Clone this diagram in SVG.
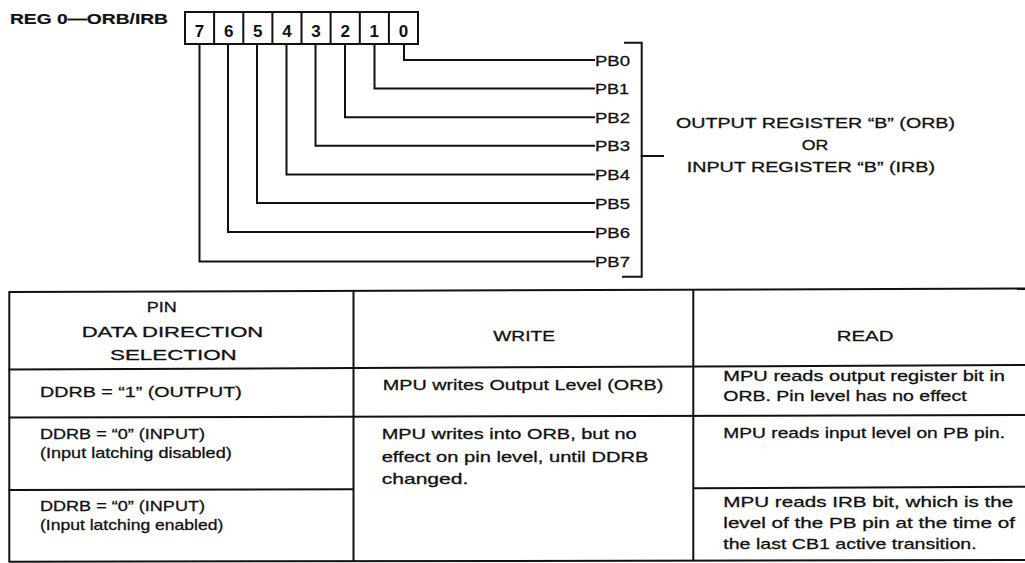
<svg xmlns="http://www.w3.org/2000/svg" width="1025" height="563" viewBox="0 0 1025 563">
<defs>
<style>
.t{font-family:"Liberation Sans",Arial,Helvetica,sans-serif;font-size:15px;fill:#111;stroke:#111;stroke-width:0.3}
.b{font-weight:bold;stroke-width:0.2}
.d{font-family:"Liberation Sans",Arial,sans-serif;font-size:17px;font-weight:bold;fill:#111;text-anchor:middle}
.ln{fill:none;stroke:#111;stroke-width:2;stroke-linecap:square;stroke-linejoin:miter}
.tl{fill:none;stroke:#111;stroke-width:2}
</style>
</defs>
<rect width="1025" height="563" fill="#fff"/>

<g id="title">
<text class="t b" x="10" y="23.5" font-size="14.5" textLength="158" lengthAdjust="spacingAndGlyphs">REG 0—ORB/IRB</text>
</g>

<g id="register">
<rect class="ln" x="185" y="12" width="233" height="32"/>
<g class="ln" stroke-width="1.5">
<line x1="214.1" y1="12" x2="214.1" y2="44"/>
<line x1="243.3" y1="12" x2="243.3" y2="44"/>
<line x1="272.4" y1="12" x2="272.4" y2="44"/>
<line x1="301.5" y1="12" x2="301.5" y2="44"/>
<line x1="330.6" y1="12" x2="330.6" y2="44"/>
<line x1="359.8" y1="12" x2="359.8" y2="44"/>
<line x1="388.9" y1="12" x2="388.9" y2="44"/>
</g>
<text class="d" x="199.6" y="36.5">7</text>
<text class="d" x="228.7" y="36.5">6</text>
<text class="d" x="257.8" y="36.5">5</text>
<text class="d" x="286.9" y="36.5">4</text>
<text class="d" x="316.1" y="36.5">3</text>
<text class="d" x="345.2" y="36.5">2</text>
<text class="d" x="374.3" y="36.5">1</text>
<text class="d" x="403.4" y="36.5">0</text>
</g>

<g id="connectors">
<polyline class="ln" points="404,44 404,60 594,60"/>
<polyline class="ln" points="374.5,44 374.5,88.6 594,88.6"/>
<polyline class="ln" points="345,44 345,117.2 594,117.2"/>
<polyline class="ln" points="315.5,44 315.5,145.8 594,145.8"/>
<polyline class="ln" points="286.5,44 286.5,174.4 594,174.4"/>
<polyline class="ln" points="257,44 257,203 594,203"/>
<polyline class="ln" points="228,44 228,232 594,232"/>
<polyline class="ln" points="199.5,44 199.5,261.5 594,261.5"/>
</g>

<g id="pb-labels">
<text class="t" x="595" y="65.5" textLength="35" lengthAdjust="spacingAndGlyphs">PB0</text>
<text class="t" x="595" y="94.1" textLength="34" lengthAdjust="spacingAndGlyphs">PB1</text>
<text class="t" x="595" y="122.7" textLength="35" lengthAdjust="spacingAndGlyphs">PB2</text>
<text class="t" x="595" y="151.3" textLength="35" lengthAdjust="spacingAndGlyphs">PB3</text>
<text class="t" x="595" y="179.9" textLength="35" lengthAdjust="spacingAndGlyphs">PB4</text>
<text class="t" x="595" y="208.5" textLength="35" lengthAdjust="spacingAndGlyphs">PB5</text>
<text class="t" x="595" y="237.5" textLength="35" lengthAdjust="spacingAndGlyphs">PB6</text>
<text class="t" x="595" y="267" textLength="35" lengthAdjust="spacingAndGlyphs">PB7</text>
</g>

<g id="bracket">
<polyline class="ln" points="625,42.7 641.7,42.7 641.7,276.7 623,276.7"/>
<line class="ln" x1="641.7" y1="156" x2="663" y2="156"/>
</g>

<g id="register-label">
<text class="t" x="676" y="128.3" textLength="279" lengthAdjust="spacingAndGlyphs">OUTPUT REGISTER “B” (ORB)</text>
<text class="t" x="801.7" y="149.6" textLength="26.6" lengthAdjust="spacingAndGlyphs">OR</text>
<text class="t" x="686.7" y="171.7" textLength="248.3" lengthAdjust="spacingAndGlyphs">INPUT REGISTER “B” (IRB)</text>
</g>

<g id="table">
<g class="tl">
<line x1="8.5" y1="292" x2="1025" y2="288.5"/>
<line x1="8.5" y1="369.5" x2="1025" y2="365"/>
<line x1="8.5" y1="417.5" x2="1025" y2="415"/>
<line x1="8.5" y1="490" x2="353.5" y2="489.3"/>
<line x1="693.3" y1="488.3" x2="1025" y2="486.7"/>
<line x1="8.5" y1="561.8" x2="1025" y2="560"/>
<line x1="9.3" y1="292" x2="9.3" y2="561.8"/>
<line x1="353.5" y1="291" x2="353.5" y2="561.5"/>
<line x1="693.3" y1="290" x2="693.3" y2="560.8"/>
</g>
</g>

<g id="header">
<text class="t" x="146.7" y="312.3" textLength="30" lengthAdjust="spacingAndGlyphs">PIN</text>
<text class="t" x="81.7" y="337" textLength="181.6" lengthAdjust="spacingAndGlyphs">DATA DIRECTION</text>
<text class="t" x="110" y="360" textLength="126.7" lengthAdjust="spacingAndGlyphs">SELECTION</text>
<text class="t" x="493.3" y="341" textLength="61.7" lengthAdjust="spacingAndGlyphs">WRITE</text>
<text class="t" x="836.7" y="341" textLength="56.7" lengthAdjust="spacingAndGlyphs">READ</text>
</g>

<g id="row-output">
<text class="t" x="40" y="397" textLength="201.7" lengthAdjust="spacingAndGlyphs">DDRB = “1” (OUTPUT)</text>
<text class="t" x="382.7" y="390" textLength="280.7" lengthAdjust="spacingAndGlyphs">MPU writes Output Level (ORB)</text>
<text class="t" x="723.3" y="380.7" textLength="281.7" lengthAdjust="spacingAndGlyphs">MPU reads output register bit in</text>
<text class="t" x="723.3" y="400.7" textLength="243.3" lengthAdjust="spacingAndGlyphs">ORB. Pin level has no effect</text>
</g>

<g id="row-input-disabled">
<text class="t" x="40" y="438.5" textLength="165" lengthAdjust="spacingAndGlyphs">DDRB = “0” (INPUT)</text>
<text class="t" x="40" y="457.5" textLength="191.7" lengthAdjust="spacingAndGlyphs">(Input latching disabled)</text>
<text class="t" x="381.7" y="439" textLength="255" lengthAdjust="spacingAndGlyphs">MPU writes into ORB, but no</text>
<text class="t" x="381.7" y="461.5" textLength="266.7" lengthAdjust="spacingAndGlyphs">effect on pin level, until DDRB</text>
<text class="t" x="381.7" y="484" textLength="86.7" lengthAdjust="spacingAndGlyphs">changed.</text>
<text class="t" x="723.3" y="438" textLength="281.7" lengthAdjust="spacingAndGlyphs">MPU reads input level on PB pin.</text>
</g>

<g id="row-input-enabled">
<text class="t" x="40" y="510.5" textLength="165" lengthAdjust="spacingAndGlyphs">DDRB = “0” (INPUT)</text>
<text class="t" x="40" y="530" textLength="183.3" lengthAdjust="spacingAndGlyphs">(Input latching enabled)</text>
<text class="t" x="723.3" y="507" textLength="290" lengthAdjust="spacingAndGlyphs">MPU reads IRB bit, which is the</text>
<text class="t" x="723.3" y="528" textLength="291.7" lengthAdjust="spacingAndGlyphs">level of the PB pin at the time of</text>
<text class="t" x="723.3" y="549" textLength="253.3" lengthAdjust="spacingAndGlyphs">the last CB1 active transition.</text>
</g>
</svg>
